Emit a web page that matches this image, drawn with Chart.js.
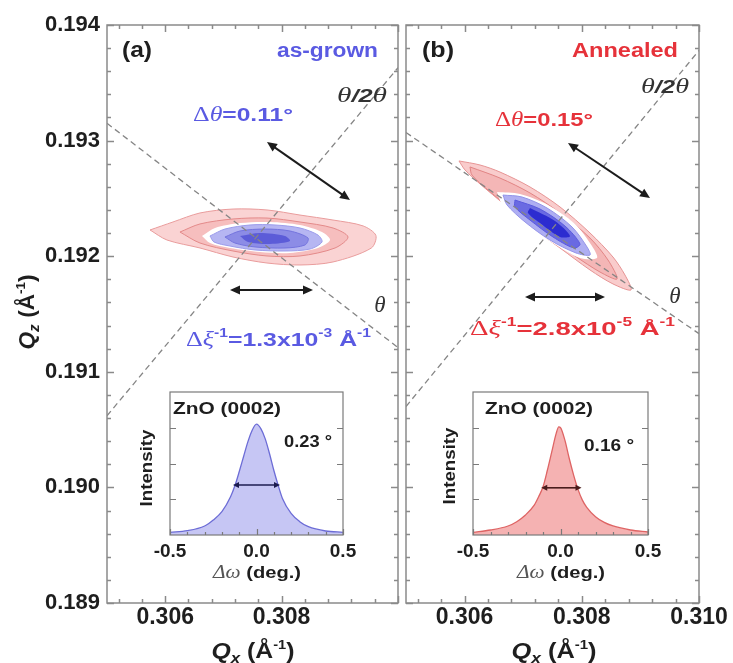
<!DOCTYPE html>
<html><head><meta charset="utf-8">
<script src="https://cdn.jsdelivr.net/npm/chart.js@4.4.1/dist/chart.umd.min.js"></script>
<style>
html,body{margin:0;padding:0;background:#fff;width:733px;height:663px;overflow:hidden}
canvas{position:absolute}
</style></head><body>
<canvas id="pa" width="402" height="663" style="left:0;top:0;width:402px;height:663px"></canvas>
<canvas id="pb" width="331" height="663" style="left:402px;top:0;width:331px;height:663px"></canvas>
<canvas id="ia" width="245" height="210" style="left:120px;top:380px;width:245px;height:210px"></canvas>
<canvas id="ib" width="245" height="210" style="left:425px;top:380px;width:245px;height:210px"></canvas>
<script>
// ---------- axis ticks ----------
const qzTicks = [0.189, 0.190, 0.191, 0.192, 0.193, 0.194];
const qxTicksA = [0.306, 0.308];
const qxTicksB = [0.306, 0.308, 0.310];
const qxMajor = [0.306, 0.308, 0.310];
const dwTicks = [-0.5, 0, 0.5];
const dwMinor = [-0.4, -0.3, -0.2, -0.1, 0.1, 0.2, 0.3, 0.4];
const intTicks = [0.25, 0.5, 0.75];

// ---------- contour levels, panel (a) as-grown : [Qx, Qz] ----------
const contA1 = [[0.305739,0.192227],[0.306134,0.192296],[0.306598,0.192374],[0.307165,0.192408],[0.307749,0.192400],[0.308316,0.192356],[0.308883,0.192313],[0.309400,0.192262],[0.309620,0.192180],[0.309540,0.192070],[0.308883,0.191950],[0.308316,0.191924],[0.307749,0.191941],[0.307165,0.191993],[0.306598,0.192071],[0.306031,0.192140]];
const contA2 = [[0.306254,0.192209],[0.306598,0.192279],[0.307165,0.192322],[0.307749,0.192330],[0.308316,0.192296],[0.308883,0.192244],[0.309141,0.192166],[0.308918,0.192071],[0.308316,0.192002],[0.307749,0.192002],[0.307165,0.192045],[0.306598,0.192114]];
const contA3 = [[0.306632,0.192175],[0.306856,0.192244],[0.307285,0.192287],[0.307801,0.192296],[0.308316,0.192270],[0.308694,0.192209],[0.308832,0.192140],[0.308625,0.192071],[0.308144,0.192028],[0.307629,0.192036],[0.307113,0.192071],[0.306770,0.192114]];
const contA4 = [[0.306770,0.192175],[0.307027,0.192235],[0.307457,0.192270],[0.307887,0.192270],[0.308316,0.192244],[0.308625,0.192183],[0.308694,0.192123],[0.308488,0.192062],[0.308058,0.192045],[0.307543,0.192054],[0.307113,0.192088],[0.306838,0.192123]];
const contA5 = [[0.307027,0.192166],[0.307285,0.192218],[0.307715,0.192235],[0.308144,0.192218],[0.308454,0.192157],[0.308402,0.192097],[0.308058,0.192071],[0.307543,0.192080],[0.307199,0.192114]];
const contA6 = [[0.307285,0.192175],[0.307629,0.192201],[0.308058,0.192175],[0.308144,0.192131],[0.307801,0.192106],[0.307423,0.192123]];

// ---------- contour levels, panel (b) annealed ----------
const contB1 = [[0.305904,0.192824],[0.306263,0.192789],[0.306604,0.192728],[0.307116,0.192599],[0.307628,0.192426],[0.308140,0.192201],[0.308532,0.191993],[0.308737,0.191837],[0.308840,0.191708],[0.308532,0.191760],[0.308140,0.191881],[0.307628,0.192071],[0.307116,0.192261],[0.306689,0.192443],[0.306263,0.192625],[0.306007,0.192746]];
const contB2 = [[0.306092,0.192772],[0.306604,0.192676],[0.307116,0.192547],[0.307628,0.192374],[0.308140,0.192157],[0.308447,0.191967],[0.308601,0.191803],[0.308311,0.191863],[0.307884,0.192002],[0.307372,0.192183],[0.306860,0.192382],[0.306399,0.192573],[0.306126,0.192702]];
const contB3 = [[0.306553,0.192555],[0.306945,0.192538],[0.307423,0.192443],[0.307884,0.192279],[0.308174,0.192088],[0.308259,0.191984],[0.307969,0.191984],[0.307509,0.192114],[0.307031,0.192279],[0.306655,0.192434]];
const contB4 = [[0.306655,0.192529],[0.306980,0.192512],[0.307406,0.192417],[0.307833,0.192253],[0.308089,0.192080],[0.308140,0.192010],[0.307901,0.192028],[0.307457,0.192140],[0.307031,0.192296],[0.306724,0.192443]];
const contB5 = [[0.306860,0.192486],[0.307287,0.192408],[0.307713,0.192261],[0.307969,0.192106],[0.307867,0.192071],[0.307509,0.192166],[0.307116,0.192313],[0.306860,0.192426]];
const contB6 = [[0.307116,0.192417],[0.307543,0.192304],[0.307799,0.192175],[0.307628,0.192166],[0.307287,0.192287],[0.307082,0.192374]];

// ---------- scan directions (dashed) ----------
const thetaA = [[0.305, 0.19315], [0.310, 0.19121]];
const th2thA = [[0.305, 0.19062], [0.310, 0.19363]];
const thetaB = [[0.305, 0.19307], [0.310, 0.19133]];
const th2thB = [[0.305, 0.19070], [0.310, 0.19378]];

// ---------- double arrows [x1,y1,x2,y2] ----------
const arrowsA = [[0.307749,0.192988,0.309175,0.192486],[0.307113,0.191708,0.308540,0.191708]];
const arrowsB = [[0.307765,0.192979,0.309164,0.192503],[0.307031,0.191647,0.308396,0.191647]];

// ---------- insets: rocking curves ----------
const dwA  = [-0.5,-0.4,-0.3,-0.25,-0.2,-0.15,-0.125,-0.1,-0.075,-0.05,-0.025,0,0.025,0.05,0.075,0.1,0.125,0.15,0.2,0.25,0.3,0.4,0.5];
const intA = [0.019,0.03,0.063,0.105,0.163,0.267,0.344,0.442,0.547,0.651,0.733,0.775,0.744,0.674,0.57,0.453,0.349,0.256,0.151,0.093,0.058,0.028,0.019];
const dwB  = [-0.5,-0.4,-0.3,-0.25,-0.2,-0.15,-0.125,-0.1,-0.075,-0.05,-0.025,-0.01,0,0.025,0.05,0.075,0.1,0.125,0.15,0.2,0.25,0.3,0.4,0.5];
const intB = [0.019,0.035,0.063,0.093,0.14,0.209,0.267,0.337,0.453,0.581,0.709,0.756,0.751,0.663,0.535,0.419,0.319,0.244,0.193,0.128,0.088,0.063,0.035,0.021];
const fwhmA = [-0.136, 0.136, 0.35];
const fwhmB = [-0.11, 0.12, 0.33];

// ---------- styling ----------
const SANS = '"Liberation Sans", Arial, Helvetica, sans-serif';
const SERIF = '"Liberation Serif", "Times New Roman", serif';
const B = s => `bold ${s}px ${SANS}`;
const BI = s => `italic bold ${s}px ${SANS}`;
const I = s => `italic ${s}px ${SERIF}`;
const R = s => `${s}px ${SERIF}`;
const BLUE = '#5a5ae2', RED = '#e6323a', INK = '#1e1e1e';

const qTitle = (sub) => [['Q', BI(22)], [sub, BI(15), 5], [' (Å', B(22)], ['-1', B(13), -9], [')', B(22)]];

const textsA = [
  {x:122, y:57, w:30, segs:[['(a)', B(22)]], color:INK},
  {x:378, y:57, w:101, align:'right', segs:[['as-grown', B(20)]], color:BLUE},
  {x:337, y:102, w:50, segs:[['θ', I(22)], ['/2', BI(19)], ['θ', I(22)]], color:'#333'},
  {x:193, y:121, w:100, segs:[['Δ', R(20)], ['θ', I(20)], ['=0.11°', B(19)]], color:BLUE},
  {x:380, y:312, align:'center', segs:[['θ', I(23)]], color:'#333'},
  {x:186, y:346, w:185, segs:[['Δ', R(20)], ['ξ', I(20)], ['-1', B(12), -9], ['=1.3x10', B(19)], ['-3', B(12), -9], [' Å', B(19)], ['-1', B(12), -9]], color:BLUE},
  {x:34, y:312, w:75, rot:true, align:'center', segs:qTitle('z'), color:INK},
  {x:253, y:658, w:83, align:'center', segs:qTitle('x'), color:INK}
];
const textsB = [
  {x:422, y:57, w:32, segs:[['(b)', B(22)]], color:INK},
  {x:678, y:57, w:106, align:'right', segs:[['Annealed', B(20)]], color:RED},
  {x:641, y:93, w:48, segs:[['θ', I(22)], ['/2', BI(19)], ['θ', I(22)]], color:'#333'},
  {x:495, y:126, w:98, segs:[['Δ', R(20)], ['θ', I(20)], ['=0.15°', B(19)]], color:RED},
  {x:675, y:303, align:'center', segs:[['θ', I(23)]], color:'#333'},
  {x:470, y:335, w:205, segs:[['Δ', R(20)], ['ξ', I(20)], ['-1', B(12), -9], ['=2.8x10', B(19)], ['-5', B(12), -9], [' Å', B(19)], ['-1', B(12), -9]], color:RED},
  {x:554, y:658, w:85, align:'center', segs:qTitle('x'), color:INK}
];
const textsIA = [
  {x:173, y:414, w:108, segs:[['ZnO (0002)', B(17)]], color:INK},
  {x:284, y:447, w:48, segs:[['0.23 °', B(17)]], color:INK},
  {x:152, y:468, w:77, rot:true, align:'center', segs:[['Intensity', B(17)]], color:INK},
  {x:257, y:578, w:88, align:'center', segs:[['Δω', I(18), 0, '#555'], [' (deg.)', B(17)]], color:INK}
];
const textsIB = [
  {x:485, y:414, w:108, segs:[['ZnO (0002)', B(17)]], color:INK},
  {x:584, y:451, w:50, segs:[['0.16 °', B(17)]], color:INK},
  {x:455, y:466, w:77, rot:true, align:'center', segs:[['Intensity', B(17)]], color:INK},
  {x:561, y:578, w:88, align:'center', segs:[['Δω', I(18), 0, '#555'], [' (deg.)', B(17)]], color:INK}
];

// ---------- helpers ----------
function drawRich(ctx, t, ox, oy) {
  ctx.save();
  ctx.textBaseline = 'alphabetic';
  ctx.textAlign = 'left';
  let total = 0;
  const ws = t.segs.map(s => { ctx.font = s[1]; const w = ctx.measureText(s[0]).width; total += w; return w; });
  const sx = t.w ? t.w / total : 1;
  ctx.translate(t.x - ox, t.y - oy);
  if (t.rot) ctx.rotate(-Math.PI / 2);
  ctx.scale(sx, 1);
  let cx = t.align === 'center' ? -total / 2 : t.align === 'right' ? -total : 0;
  t.segs.forEach((s, i) => {
    ctx.font = s[1];
    ctx.fillStyle = s[3] || t.color;
    ctx.fillText(s[0], cx, s[2] || 0);
    cx += ws[i];
  });
  ctx.restore();
}
function arrowHead(ctx, x, y, ang, len, hw) {
  ctx.beginPath();
  ctx.moveTo(x, y);
  ctx.lineTo(x - len * Math.cos(ang) + hw * Math.sin(ang), y - len * Math.sin(ang) - hw * Math.cos(ang));
  ctx.lineTo(x - len * Math.cos(ang) - hw * Math.sin(ang), y - len * Math.sin(ang) + hw * Math.cos(ang));
  ctx.closePath();
  ctx.fill();
}
function dblArrow(ctx, x1, y1, x2, y2, color, lw, len, hw) {
  const ang = Math.atan2(y2 - y1, x2 - x1);
  ctx.save();
  ctx.strokeStyle = color; ctx.fillStyle = color; ctx.lineWidth = lw;
  ctx.beginPath();
  ctx.moveTo(x1 + Math.cos(ang) * len * 0.8, y1 + Math.sin(ang) * len * 0.8);
  ctx.lineTo(x2 - Math.cos(ang) * len * 0.8, y2 - Math.sin(ang) * len * 0.8);
  ctx.stroke();
  arrowHead(ctx, x2, y2, ang, len, hw);
  arrowHead(ctx, x1, y1, ang + Math.PI, len, hw);
  ctx.restore();
}
function stepsBetween(lo, hi, anchor, step) {
  const out = [];
  const k0 = Math.ceil((lo - anchor) / step - 1e-6), k1 = Math.floor((hi - anchor) / step + 1e-6);
  for (let k = k0; k <= k1; k++) out.push(+(anchor + k * step).toFixed(7));
  return out;
}
const pts = arr => arr.map(p => ({x: p[0], y: p[1]}));
const closed = arr => pts(arr.concat([arr[0]]));

function framePlugin(o) {
  return {
    id: 'frame' + Math.random().toString(36).slice(2),
    afterDatasetsDraw(chart) {
      const {ctx, chartArea: a, scales: {x, y}} = chart;
      ctx.save();
      ctx.strokeStyle = o.color; ctx.lineWidth = o.lw;
      ctx.beginPath();
      const xt = (vals, len) => vals.forEach(v => {
        const p = Math.round(x.getPixelForValue(v)) + 0.5;
        ctx.moveTo(p, a.bottom); ctx.lineTo(p, a.bottom - len);
        if (o.topTicks) { ctx.moveTo(p, a.top); ctx.lineTo(p, a.top + len); }
      });
      const yt = (vals, len) => vals.forEach(v => {
        const p = Math.round(y.getPixelForValue(v)) + 0.5;
        ctx.moveTo(a.left, p); ctx.lineTo(a.left + len, p);
        ctx.moveTo(a.right, p); ctx.lineTo(a.right - len, p);
      });
      xt(o.xMajor, o.maj); xt(o.xMinor, o.min);
      yt(o.yMajor, o.maj); yt(o.yMinor, o.min);
      ctx.stroke();
      ctx.strokeRect(a.left, a.top, a.width, a.height);
      ctx.restore();
    }
  };
}
function notesPlugin(o) {
  return {
    id: 'notes' + Math.random().toString(36).slice(2),
    afterDraw(chart) {
      const {ctx, scales: {x, y}} = chart;
      (o.arrows || []).forEach(a => dblArrow(ctx, x.getPixelForValue(a[0]), y.getPixelForValue(a[1]),
        x.getPixelForValue(a[2]), y.getPixelForValue(a[3]), o.arrowColor, o.arrowLw, o.arrowLen, o.arrowHw));
      (o.texts || []).forEach(t => drawRich(ctx, t, o.off[0], o.off[1]));
    }
  };
}
function bgPlugin() {
  return {
    id: 'bg' + Math.random().toString(36).slice(2),
    beforeDatasetsDraw(chart) {
      const {ctx, chartArea: a} = chart;
      ctx.save(); ctx.fillStyle = '#fff'; ctx.fillRect(a.left, a.top, a.width, a.height); ctx.restore();
    }
  };
}

const contour = (arr, fill, border, order) => ({
  data: closed(arr), showLine: true, fill: 'shape', backgroundColor: fill,
  borderColor: border || fill, borderWidth: border ? 1 : 0, pointRadius: 0, tension: 0.3, order
});
const dashed = (arr) => ({
  data: pts(arr), showLine: true, fill: false, borderColor: '#858585', borderWidth: 1.3,
  borderDash: [6, 4], pointRadius: 0, order: 0
});

function mainChart(id, p) {
  const xMinor = stepsBetween(0.305, 0.310, 0.306, 0.0004).filter(v => !qxMajor.some(m => Math.abs(m - v) < 1e-7));
  const yMinor = stepsBetween(0.189, 0.194, 0.189, 0.0002).filter(v => !qzTicks.some(m => Math.abs(m - v) < 1e-7));
  return new Chart(document.getElementById(id), {
    type: 'scatter',
    data: {datasets: p.datasets},
    options: {
      responsive: false, animation: false, devicePixelRatio: 1, events: [],
      layout: {padding: {top: 25, right: p.padRight, left: p.padLeft, bottom: 0}},
      plugins: {legend: {display: false}, tooltip: {enabled: false}},
      scales: {
        x: {
          type: 'linear', min: 0.305, max: 0.310,
          grid: {display: false, drawTicks: false}, border: {display: false},
          afterBuildTicks: s => { s.ticks = p.xTicks.map(v => ({value: v})); },
          afterFit: s => { s.height = 60; },
          ticks: {padding: 1, autoSkip: false, maxRotation: 0, color: INK,
            font: {family: SANS, size: 23, weight: 'bold'}, callback: v => Number(v).toFixed(3)}
        },
        y: {
          type: 'linear', min: 0.189, max: 0.194, display: p.showY,
          grid: {display: false, drawTicks: false}, border: {display: false},
          afterBuildTicks: s => { s.ticks = qzTicks.map(v => ({value: v})); },
          afterFit: s => { s.width = p.showY ? 107 : 0; },
          ticks: {padding: 7, autoSkip: false, color: INK,
            font: {family: SANS, size: 22, weight: 'bold'}, callback: v => Number(v).toFixed(3)}
        }
      }
    },
    plugins: [
      framePlugin({color: '#8a8a8a', lw: 1.5, maj: 7, min: 4, topTicks: true,
        xMajor: qxMajor, xMinor, yMajor: qzTicks, yMinor}),
      notesPlugin({off: p.off, arrows: p.arrows, arrowColor: '#1c1c1c', arrowLw: 2, arrowLen: 10, arrowHw: 4.5, texts: p.texts})
    ]
  });
}

mainChart('pa', {
  off: [0, 0], padLeft: 0, padRight: 4, showY: true, xTicks: qxTicksA, arrows: arrowsA, texts: textsA,
  datasets: [
    contour(contA1, '#fad3d3', '#e99c9c', 16),
    contour(contA2, '#f6bebe', '#e48a8a', 15),
    contour(contA3, '#ffffff', null, 14),
    contour(contA4, '#b6b6f2', '#9c9cec', 13),
    contour(contA5, '#8c8ce6', '#7474de', 12),
    contour(contA6, '#5c5cd8', null, 11),
    dashed(thetaA), dashed(th2thA)
  ]
});
mainChart('pb', {
  off: [402, 0], padLeft: 4, padRight: 34, showY: false, xTicks: qxTicksB, arrows: arrowsB, texts: textsB,
  datasets: [
    contour(contB1, '#f9cccc', '#e69494', 16),
    contour(contB2, '#f4b6b6', '#e28484', 15),
    contour(contB3, '#ffffff', null, 14),
    contour(contB4, '#aeaef2', '#9494ea', 13),
    contour(contB5, '#6a6ae2', '#5a5ade', 12),
    contour(contB6, '#2c2cd0', null, 11),
    dashed(thetaB), dashed(th2thB)
  ]
});

function insetChart(id, p) {
  return new Chart(document.getElementById(id), {
    type: 'scatter',
    data: {datasets: [{
      data: p.xs.map((v, i) => ({x: v, y: p.ys[i]})), showLine: true, fill: 'origin',
      backgroundColor: p.fill, borderColor: p.line, borderWidth: 1.3, pointRadius: 0,
      cubicInterpolationMode: 'monotone'
    }]},
    options: {
      responsive: false, animation: false, devicePixelRatio: 1, events: [],
      layout: {padding: {top: 12, right: 22, left: p.padLeft, bottom: 0}},
      plugins: {legend: {display: false}, tooltip: {enabled: false}},
      scales: {
        x: {
          type: 'linear', min: -0.5, max: 0.5,
          grid: {display: false, drawTicks: false}, border: {display: false},
          afterBuildTicks: s => { s.ticks = dwTicks.map(v => ({value: v})); },
          afterFit: s => { s.height = 55; },
          ticks: {padding: 5, autoSkip: false, maxRotation: 0, color: INK,
            font: {family: SANS, size: 19, weight: 'bold'}, callback: v => Number(v).toFixed(1)}
        },
        y: {type: 'linear', min: 0, max: 1, display: false, afterFit: s => { s.width = 0; }}
      }
    },
    plugins: [
      bgPlugin(),
      framePlugin({color: '#7a7a7a', lw: 1.2, maj: 6, min: 3, topTicks: false,
        xMajor: dwTicks, xMinor: dwMinor, yMajor: intTicks, yMinor: []}),
      notesPlugin({off: p.off, arrows: [[p.fwhm[0], p.fwhm[2], p.fwhm[1], p.fwhm[2]]],
        arrowColor: p.arrowColor, arrowLw: 1.6, arrowLen: 6, arrowHw: 3, texts: p.texts})
    ]
  });
}
insetChart('ia', {off: [120, 380], padLeft: 50, xs: dwA, ys: intA, fill: '#c6c6f4', line: '#6c6cd6',
  fwhm: fwhmA, arrowColor: '#1c1c50', texts: textsIA});
insetChart('ib', {off: [425, 380], padLeft: 48, xs: dwB, ys: intB, fill: '#f5b2b2', line: '#de6464',
  fwhm: fwhmB, arrowColor: '#4a1c1c', texts: textsIB});
</script>
</body></html>
